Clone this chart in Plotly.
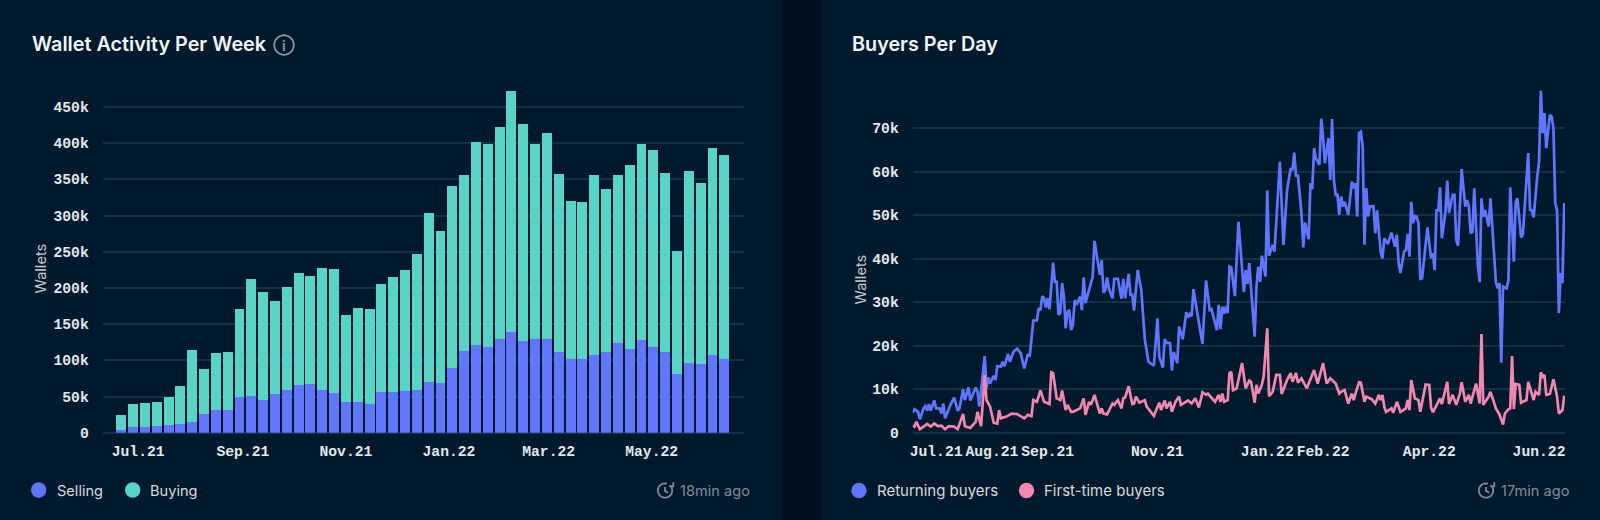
import numpy as np
import pandas as pd
import plotly.graph_objects as go

W, H = 1600, 520
CARD = "#01192d"
GAP = "#00111f"
GRID = "#0f3249"
TICK = "#e3e8ec"
SELL = "#6176ff"
BUY = "#59d3c8"
PINK = "#f088b0"
MUTED = "#7f8c97"
MONO = "Liberation Mono"
SANS = "Inter"

selling_k = [3.7,7.4,7.4,8.7,11,12,15,25.8,31.3,31.7,50,51,44.6,53,58.4,65.8,66.7,58.9,55.2,41.9,42,40,56,56,57,59.3,70.4,69,89.2,112.7,121,117.8,129.3,138.9,126.5,129.3,129.7,111.8,102,101.7,107.2,110.9,123.3,115,127.4,118.2,111.3,81.4,96,94.8,108,101.2]
buying_k = [20.3,32.1,33.1,33.6,38,52.4,99.5,61.6,78.2,80.3,121,161.5,150.4,128.7,143.1,154.2,149.3,168.8,170.8,121.1,129.6,131,149.6,159.7,167.6,187.4,233.3,209.9,251.3,243,280.7,281.6,293.6,333.6,300,269.2,284,246.2,217.4,217.2,248.5,225.5,233.3,254.5,272,272,247.2,169.4,266,249.9,285.9,282.6]
week_start = "2021-06-21"

returning_day = [0,1,3,4,6,7,8,9,10,12,13,15,16,17,18,20,21,23,25,26,28,29,31,32,35,36,37,40,41,42,43,45,46,47,49,50,51,53,54,56,58,60,62,64,65,67,69,70,71,72,73,74,75,76,78,79,80,81,82,83,84,85,86,87,88,89,90,91,93,
94,95,96,97,100,101,103,104,105,106,107,108,109,111,112,114,116,117,118,120,121,122,123,125,127,128,129,131,134,136,137,139,140,141,143,144,145,147,148,150,152,153,154,155,156,159,161,163,165,166,169,170,171,172,173,174,175,176,177,179,181,184,185,186,187,188,190,191,192,193,194,196,197,198,200,201,204,206,208,210,211,212,213,214,216,217,218,220,221,222,223,224,226,227,228,229,231,232,233,234,235,236,
237,238,239,240,242,244,245,246,247,248,249,250,251,252,253,254,256,257,258,260,261,262,264,266,268,269,270,271,273,274,275,276,277,278,279,280,281,282,283,286,288,289,290,291,292,293,294,296,297,298,300,301,302,303,305,307,308,309,310,311,312,314,315,316,317,318,320,321,323,324,325,326,327,328,330,331,332,334,335,336,338,339,342,343,344,345,347,348,349,350,351,352,354,355,356,357,358,359,360,361,362]
returning_k = [4.6,5.4,4.8,3.1,5.6,6.1,5.1,6.6,5.1,7.4,5.6,5.6,4.4,6.7,3.3,5.6,6.4,8.1,5.1,5.6,10,7.5,10.4,7.4,10.4,9.4,6,17.6,10.2,12.7,11.3,13.1,12.1,15.3,15.2,16.3,15.3,18.1,16.3,18.6,19.3,18.3,14.8,18.1,17.5,25.8,25.8,28.6,28.2,31.4,30.9,28.8,30.9,28.4,39.1,34.7,34.7,27.1,27.5,34.4,31.3,24,27.8,28.2,23.6,24.8,30.5,29.4,31.3,
28.2,35.7,29.8,31.3,35.9,44.1,39.3,36.3,39.7,32.2,32.8,35.7,33.2,30.9,35.4,35.4,30.8,35.4,30.9,36.5,31.7,31.7,28.1,37.4,32.8,26.5,21.3,16.3,15.4,26.3,17.5,15,21.5,20.7,20.6,14.3,18.6,16,24.4,21.5,27.7,26.5,27.3,26.8,33,25.3,20.4,35,28.2,28.4,23.6,29.4,23.8,29,27.3,29,27.5,38.2,38,31.4,48.5,32.3,37.4,34.2,39,33.2,22.1,33.6,38.2,34.7,40.7,35.9,55.7,40.7,43.2,41.6,62.3,43.2,55.8,60.8,60.4,64.4,58.9,59.3,50.5,42.6,48.3,44.5,57.4,56,65.4,63.1,61.6,72.2,68.1,62,67.7,58.1,72.1,58.1,54.7,54.7,
50.1,54.3,52,53.1,50.1,57.7,56.2,57.4,49.7,68.9,69.2,65.8,43.2,56.2,49.7,52,52.1,45.9,51.1,41.6,40.1,44.7,43.4,46,42.8,45.5,39,36.7,41.6,42,45.7,40.5,53.1,48.2,49.8,49.7,48.2,35.4,35.5,47.2,40.1,41.3,37.4,51.1,51.1,56.4,44.7,50.8,58,50.5,54.7,54.7,44.3,43,60.6,52,53.5,52,45.9,46.2,56.2,38.6,34.6,53.9,49.7,51.2,47.4,53.9,41.6,34.7,33.2,34.4,16.1,33.6,33.2,35.1,56.4,39.3,53.1,53.9,44.9,45.5,64.3,51.2,51.1,49.5,58.9,62.3,78.6,68.9,73.5,65.4,73.1,72.7,70,52.8,51.1,27.5,36.7,34.4,52.8]

first_day = [0,1,2,4,6,8,10,12,14,16,18,20,23,25,28,29,32,35,36,38,40,41,43,45,47,48,49,52,55,58,62,64,66,67,69,71,73,76,77,78,80,82,83,85,86,88,89,93,
95,96,98,99,101,104,105,106,108,111,112,114,116,117,118,120,122,123,124,126,129,130,134,137,138,140,141,143,144,146,148,149,153,155,157,159,160,161,163,164,168,170,171,172,173,175,176,177,178,180,183,185,187,188,190,191,192,194,195,197,198,200,202,204,205,208,210,211,213,214,216,219,223,225,228,230,232,235,237,
238,240,242,244,245,246,248,249,251,252,255,257,259,260,261,262,263,266,267,269,271,274,275,276,277,279,281,282,285,287,288,289,293,294,297,298,300,302,304,305,307,309,310,313,315,316,317,320,321,323,324,326,328,329,331,332,333,334,335,337,338,341,342,345,346,348,349,350,351,352,354,356,358,359,361,362]
first_k = [1.6,1.4,2.5,0.8,1.4,2,1.4,2.1,1.5,1.6,0.8,1.5,1.4,0.8,4.3,1.5,1.1,2.5,4.8,1.5,13.3,7.5,6,2.3,2.1,5.2,3.3,3.7,4.4,4.3,3.3,4.1,3.8,7.5,7.1,9.7,7.1,6.6,13.9,13.7,7.9,7.5,9.7,5.2,6.4,4.8,4.8,5.6,
7.9,4.1,7.1,6.4,8.7,4.4,5.6,4.4,4.2,6.7,6.4,7.5,5.6,7.9,8.1,10.7,6.6,6.7,8.3,6.9,7.5,6,3.9,6.9,5.2,7.4,5.6,7.1,4.8,7.1,8.3,6.4,7.4,6.7,7.9,5.8,7.5,9.3,8.7,9,7.1,8.7,7.1,9,7.1,7.5,13.7,14,9.8,10.2,16,10.2,12,11.7,6.9,11,9,11,12.9,24,8.4,9.4,13.3,13.3,8.9,12.1,13.7,11.7,13.7,11.5,12.5,10.2,14.4,11.3,16,11.3,12.5,11.3,9,
9.4,9.8,6.7,9,7.5,9,11.6,11.5,7.1,8.3,7.7,6.7,8.7,7.5,8.7,6,4.8,5.6,4.6,7.1,4.8,5.6,7.5,5.2,12.1,7.9,7.5,4.8,11.1,11,5.8,4.7,7.9,6.6,11.7,6.6,8.7,6.4,9,11.6,7.1,8.7,6.7,11.3,6.7,22.7,6.4,8.3,9.4,6.9,5.6,4.2,1.9,4.4,5.4,5.6,17.6,5.4,11.2,11,6.9,7.5,11.7,7.5,9.4,8.7,13.9,12.9,13.3,8.7,8.9,12.3,8.3,4.4,5.2,8.5]
day_zero = "2021-06-18"

left_ticks = ["2021-07-01","2021-09-01","2021-11-01","2022-01-01","2022-03-01","2022-05-01"]
left_labels = ["Jul.21","Sep.21","Nov.21","Jan.22","Mar.22","May.22"]
right_ticks = ["2021-07-01","2021-08-01","2021-09-01","2021-11-01","2022-01-01","2022-02-01","2022-04-01","2022-06-01"]
right_labels = ["Jul.21","Aug.21","Sep.21","Nov.21","Jan.22","Feb.22","Apr.22","Jun.22"]
left_yticks = [0,50000,100000,150000,200000,250000,300000,350000,400000,450000]
right_yticks = [0,10000,20000,30000,40000,50000,60000,70000]

def px(x):
    return x / W
def py(y):
    return 1 - y / H

weeks = pd.date_range(week_start, periods=len(selling_k), freq="7D")
fig = go.Figure()
fig.add_bar(x=weeks, y=np.array(selling_k) * 1000, name="Selling", marker=dict(color=SELL, line_width=0), xaxis="x", yaxis="y")
fig.add_bar(x=weeks, y=np.array(buying_k) * 1000, name="Buying", marker=dict(color=BUY, line_width=0), xaxis="x", yaxis="y")
fig.add_scatter(x=pd.Timestamp(day_zero) + pd.to_timedelta(returning_day, unit="D"), y=np.array(returning_k) * 1000,
                name="Returning buyers", mode="lines", line=dict(color=SELL, width=2.7), xaxis="x2", yaxis="y2", cliponaxis=False)
fig.add_scatter(x=pd.Timestamp(day_zero) + pd.to_timedelta(first_day, unit="D"), y=np.array(first_k) * 1000,
                name="First-time buyers", mode="lines", line=dict(color=PINK, width=2.7), xaxis="x2", yaxis="y2", cliponaxis=False)

tickfont = dict(family=MONO, size=14.7, color=TICK, weight=700)
def xaxis(domain, rng, tv, tt, anchor):
    return dict(domain=[px(domain[0]), px(domain[1])], range=rng, type="date", tickvals=tv, ticktext=tt,
                tickfont=tickfont, showgrid=False, zeroline=False, showline=False, ticks="outside", automargin=False,
                ticklen=5, tickcolor="rgba(0,0,0,0)", anchor=anchor, tickangle=0)
def yaxis(rng, tv, anchor):
    return dict(domain=[py(432.7), py(80)], range=rng, tickvals=tv, tickformat="~s", tickfont=tickfont, automargin=False,
                gridcolor=GRID, gridwidth=1.5, zeroline=True, zerolinecolor=GRID, zerolinewidth=1.5,
                showline=False, ticks="outside", ticklen=10, tickcolor="rgba(0,0,0,0)", anchor=anchor)

shapes = [dict(type="rect", xref="paper", yref="paper", x0=px(782), x1=px(821), y0=0, y1=1,
               fillcolor=GAP, line_width=0, layer="below")]
annotations = []

def text(x, y, s, size, color, weight=400, anchor="left", angle=0):
    annotations.append(dict(xref="paper", yref="paper", x=px(x), y=py(y), text=s, showarrow=False, xanchor=anchor,
                            yanchor="middle", textangle=angle, align=anchor if anchor != "middle" else "center",
                            borderpad=0, borderwidth=0,
                            font=dict(family=SANS, size=size, color=color, weight=weight)))
def dot(x, y, r, color):
    shapes.append(dict(type="circle", xref="paper", yref="paper", x0=px(x - r), x1=px(x + r), y0=py(y + r), y1=py(y - r),
                       fillcolor=color, line_width=0))
def poly(points, color, width):
    d = "M" + " L".join(f"{px(a):.5f},{py(b):.5f}" for a, b in points)
    shapes.append(dict(type="path", xref="paper", yref="paper", path=d, line=dict(color=color, width=width)))
def clock(cx, cy):
    t = np.radians(np.arange(-30, 300, 15))
    r = 7.2
    poly([(cx + r * np.cos(a), cy + r * np.sin(a)) for a in t], MUTED, 1.8)
    poly([(cx, cy - 3.6), (cx, cy + 0.4), (cx + 3.2, cy + 2.2)], MUTED, 1.8)
    poly([(cx + 4.0, cy - 4.4), (cx + 8.2, cy - 4.0), (cx + 8.4, cy - 8.2)], MUTED, 1.8)

text(31.5, 44, "Wallet Activity Per Week", 19.8, "#f2f5f7", 600)
text(852, 44, "Buyers Per Day", 19.8, "#f2f5f7", 600)
t = np.radians(np.arange(0, 361, 15))
poly([(284 + 9.8 * np.cos(a), 45 + 9.8 * np.sin(a)) for a in t], "#8b97a2", 1.8)
text(284, 45, "i", 14, "#8b97a2", 600, "center")
text(40.5, 269, "Wallets", 14.6, "#c3cad0", 400, "center", -90)
text(860.5, 280, "Wallets", 14.6, "#c3cad0", 400, "center", -90)

dot(38.7, 490, 7.7, SELL)
text(57, 490.5, "Selling", 14.6, "#d6dbdf")
dot(132.7, 490, 7.7, BUY)
text(150, 490.5, "Buying", 14.6, "#d6dbdf")
dot(859, 490.5, 7.7, SELL)
text(876.5, 490.5, "Returning buyers", 15, "#d6dbdf")
dot(1026.5, 490.5, 7.7, PINK)
text(1044, 490.5, "First-time buyers", 15, "#d6dbdf")
clock(665, 490.5)
text(680, 490.5, "18min ago", 14.6, MUTED)
clock(1486, 490.5)
text(1500.5, 490.5, "17min ago", 14.6, MUTED)

fig.update_layout(
    width=W, height=H, margin=dict(l=0, r=0, t=0, b=0, pad=0, autoexpand=False), paper_bgcolor=CARD, plot_bgcolor="rgba(0,0,0,0)",
    barmode="stack", bargap=0.16, showlegend=False, shapes=shapes, annotations=annotations,
    xaxis=xaxis((102.7, 744), ["2021-06-10", "2022-06-24 16:00"], left_ticks, left_labels, "y"),
    yaxis=yaxis([0, 487200], left_yticks, "x"),
    xaxis2=xaxis((912.7, 1565), ["2021-06-18", "2022-06-15 10:00"], right_ticks, right_labels, "y2"),
    yaxis2=yaxis([0, 81100], right_yticks, "x2"),
)
css = ("var s=document.createElement('style');"
       "s.textContent='html,body{margin:0!important;padding:0!important;height:520px!important;width:1600px!important;overflow:hidden!important;background:%s}"
       "body>div{display:block;height:520px;width:1600px;line-height:0;overflow:hidden}';"
       "document.head.appendChild(s);" % CARD)
fig.write_html("out.html", config=dict(displayModeBar=False), post_script=css)
